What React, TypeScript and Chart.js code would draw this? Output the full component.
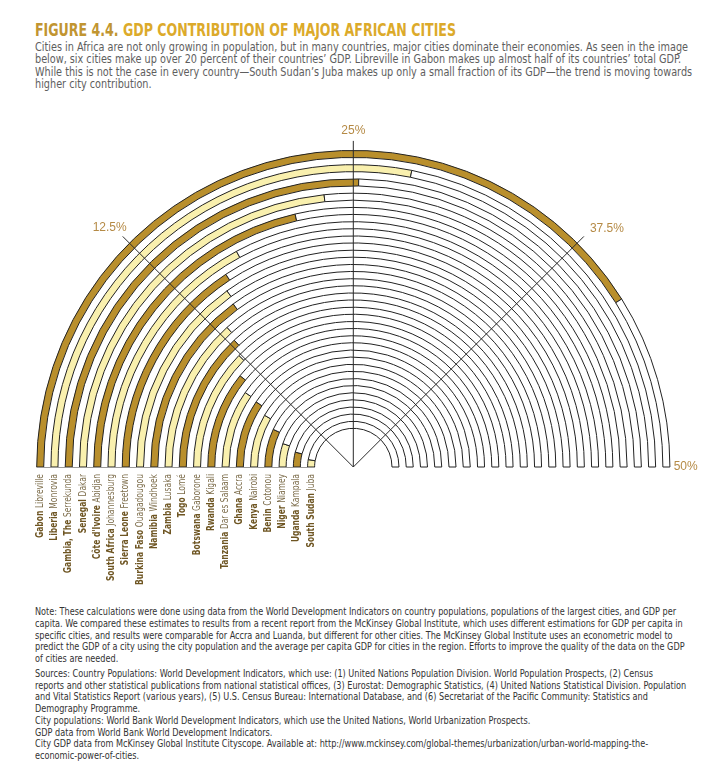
import React, { useEffect, useLayoutEffect, useRef } from "react";
import { Chart, registerables } from "chart.js";

Chart.register(...registerables);

const countries = [
  "Gabon", "Liberia", "Gambia, The", "Senegal", "Côte d'Ivoire", "South Africa",
  "Sierra Leone", "Burkina Faso", "Namibia", "Zambia", "Togo", "Botswana",
  "Rwanda", "Tanzania", "Ghana", "Kenya", "Benin", "Niger", "Uganda", "South Sudan",
];
const cities = [
  "Libreville", "Monrovia", "Serrekunda", "Dakar", "Abidjan", "Johannesburg",
  "Freetown", "Ouagadougou", "Windhoek", "Lusaka", "Lomé", "Gaborone",
  "Kigali", "Dar es Salaam", "Accra", "Nairobi", "Cotonou", "Niamey", "Kampala", "Juba",
];
const gdpShare = [
  41.1, 28.1, 25.3, 23.3, 21.4, 17.1, 15.7, 15.1, 14.9, 13.3,
  13.0, 12.3, 10.8, 9.6, 9.4, 8.4, 7.0, 5.1, 4.0, 2.6,
];
const axisMax = 50;
const tickValues = [12.5, 25, 37.5, 50];
const tickLabels = ["12.5%", "25%", "37.5%", "50%"];

const paragraphLines = [
  "Cities in Africa are not only growing in population, but in many countries, major cities dominate their economies. As seen in the image",
  "below, six cities make up over 20 percent of their countries’ GDP. Libreville in Gabon makes up almost half of its countries’ total GDP.",
  "While this is not the case in every country—South Sudan’s Juba makes up only a small fraction of its GDP—the trend is moving towards",
  "higher city contribution.",
];
const noteLines = [
  "Note: These calculations were done using data from the World Development Indicators on country populations, populations of the largest cities, and GDP per",
  "capita. We compared these estimates to results from a recent report from the McKinsey Global Institute, which uses different estimations for GDP per capita in",
  "specific cities, and results were comparable for Accra and Luanda, but different for other cities. The McKinsey Global Institute uses an econometric model to",
  "predict the GDP of a city using the city population and the average per capita GDP for cities in the region. Efforts to improve the quality of the data on the GDP",
  "of cities are needed.",
];
const sourceLines = [
  "Sources: Country Populations: World Development Indicators, which use: (1) United Nations Population Division. World Population Prospects, (2) Census",
  "reports and other statistical publications from national statistical offices, (3) Eurostat: Demographic Statistics, (4) United Nations Statistical Division. Population",
  "and Vital Statistics Report (various years), (5) U.S. Census Bureau: International Database, and (6) Secretariat of the Pacific Community: Statistics and",
  "Demography Programme.",
  "City populations: World Bank World Development Indicators, which use the United Nations, World Urbanization Prospects.",
  "GDP data from World Bank World Development Indicators.",
  "City GDP data from McKinsey Global Institute Cityscope. Available at: http://www.mckinsey.com/global-themes/urbanization/urban-world-mapping-the-",
  "economic-power-of-cities.",
];

const NARROW = '"Liberation Sans Narrow", "DejaVu Sans Condensed", sans-serif';
const DARK = "#b98f2c";
const LIGHT = "#f9f0ae";
const LABEL_SQUEEZE = 0.84;

const overlayPlugin = {
  id: "overlay",
  afterDatasetsDraw(chart: any) {
    const ctx = chart.ctx;
    const first = chart.getDatasetMeta(0).data[0];
    if (!first) return;
    const cx = first.x;
    const cy = first.y;
    const R = first.outerRadius;
    const lastArc = chart.getDatasetMeta((countries.length - 1) * 2).data[0];
    const L = R * 1.03;
    ctx.save();

    // faint baseline under the bars on the left
    ctx.strokeStyle = "#9a9a9a";
    ctx.lineWidth = 1;
    ctx.beginPath();
    ctx.moveTo(cx - R, cy + 0.5);
    ctx.lineTo(cx - lastArc.innerRadius, cy + 0.5);
    ctx.stroke();

    ctx.strokeStyle = "#2a2a2a";
    ctx.fillStyle = "#b58a45";
    ctx.font = '12px "Liberation Sans", sans-serif';
    ctx.textBaseline = "middle";
    tickValues.forEach((v, i) => {
      const a = Math.PI + (v / axisMax) * Math.PI;
      const ex = cx + L * Math.cos(a);
      const ey = cy + L * Math.sin(a);
      if (v < axisMax) {
        ctx.beginPath();
        ctx.moveTo(cx, cy);
        ctx.lineTo(ex, ey);
        ctx.stroke();
      }
      let tx = ex;
      let ty = ey;
      if (v === axisMax / 2) {
        ctx.textAlign = "center";
        ty = ey - 10;
      } else if (v < axisMax / 2) {
        ctx.textAlign = "right";
        tx = ex + 4;
        ty = ey - 9;
      } else if (v < axisMax) {
        ctx.textAlign = "left";
        tx = ex + 6;
        ty = ey - 8;
      } else {
        ctx.textAlign = "left";
        tx = cx + R * 1.012;
        ty = cy;
      }
      ctx.fillText(tickLabels[i], tx, ty);
    });

    countries.forEach((country, i) => {
      const arc = chart.getDatasetMeta(i * 2).data[0];
      const mid = (arc.innerRadius + arc.outerRadius) / 2;
      const x = arc.x - mid;
      const y = arc.y + 7;
      ctx.save();
      ctx.translate(x, y);
      ctx.rotate(-Math.PI / 2);
      ctx.scale(LABEL_SQUEEZE, 1);
      ctx.textBaseline = "middle";
      ctx.textAlign = "left";
      const bold = "bold 10px " + NARROW;
      const reg = "10px " + NARROW;
      ctx.font = bold;
      const wb = ctx.measureText(country + " ").width;
      ctx.font = reg;
      const wc = ctx.measureText(cities[i]).width;
      const start = -(wb + wc);
      ctx.font = bold;
      ctx.fillStyle = "#6e5522";
      ctx.fillText(country + " ", start, 0);
      ctx.font = reg;
      ctx.fillStyle = "#7c6c4a";
      ctx.fillText(cities[i], start + wb, 0);
      ctx.restore();
    });
    ctx.restore();
  },
};

function buildDatasets() {
  const ds: any[] = [];
  gdpShare.forEach((v, i) => {
    ds.push({
      data: [v, axisMax - v],
      backgroundColor: [i % 2 === 0 ? DARK : LIGHT, "#ffffff"],
      borderColor: "#222222",
      borderWidth: 1,
      weight: 7,
    });
    if (i < gdpShare.length - 1) {
      ds.push({
        data: [axisMax],
        backgroundColor: ["rgba(0,0,0,0)"],
        borderWidth: 0,
        weight: 7.26,
      });
    }
  });
  return ds;
}

function fitWidth(el: HTMLElement | null, target: number) {
  if (!el) return;
  const first = el.querySelector("span") as HTMLElement | null;
  if (!first) return;
  const w = first.getBoundingClientRect().width;
  if (w > 0) {
    el.style.transformOrigin = "0 0";
    el.style.transform = `scaleX(${target / w})`;
  }
}

export default function App() {
  const ref = useRef<HTMLCanvasElement | null>(null);
  const titleRef = useRef<HTMLDivElement | null>(null);
  const paraRef = useRef<HTMLDivElement | null>(null);
  const noteRef = useRef<HTMLDivElement | null>(null);

  useLayoutEffect(() => {
    document.body.style.margin = "0";
    fitWidth(titleRef.current, 421);
    fitWidth(paraRef.current, 653);
    fitWidth(noteRef.current, 641);
  }, []);

  useEffect(() => {
    const chart = new Chart(ref.current as HTMLCanvasElement, {
      type: "doughnut",
      data: { labels: ["City share of GDP", "Rest"], datasets: buildDatasets() },
      options: {
        animation: false,
        responsive: false,
        rotation: -90,
        circumference: 180,
        radius: 316.6,
        cutout: "12.22%",
        layout: { padding: { left: 0, right: 15.4, top: 0, bottom: 102.6 } },
        plugins: { legend: { display: false }, tooltip: { enabled: false } },
        events: [],
      },
      plugins: [overlayPlugin],
    } as any);
    return () => chart.destroy();
  }, []);

  return (
    <div style={{ position: "relative", width: 722, height: 777, background: "#fff", overflow: "hidden" }}>
      <div
        ref={titleRef}
        style={{ position: "absolute", left: 35, top: 19, whiteSpace: "nowrap", font: "bold 18px " + NARROW }}
      >
        <span>
          <span style={{ color: "#c19531" }}>FIGURE 4.4. </span>
          <span style={{ color: "#dcaa2a" }}>GDP CONTRIBUTION OF MAJOR AFRICAN CITIES</span>
        </span>
      </div>
      <div
        ref={paraRef}
        style={{
          position: "absolute", left: 35, top: 41, whiteSpace: "nowrap",
          font: "12px " + NARROW, lineHeight: "12.4px", color: "#5e5e5e",
        }}
      >
        {paragraphLines.map((l, i) => (
          <div key={i}><span>{l}</span></div>
        ))}
      </div>
      <canvas ref={ref} width={722} height={480} style={{ position: "absolute", left: 0, top: 120, width: 722, height: 480 }} />
      <div
        ref={noteRef}
        style={{
          position: "absolute", left: 35, top: 606, whiteSpace: "nowrap",
          font: "10.5px " + NARROW, lineHeight: "11.75px", color: "#333",
        }}
      >
        {noteLines.map((l, i) => (
          <div key={i}><span>{l}</span></div>
        ))}
        <div style={{ height: 3 }} />
        {sourceLines.map((l, i) => (
          <div key={"s" + i}><span>{l}</span></div>
        ))}
      </div>
    </div>
  );
}
